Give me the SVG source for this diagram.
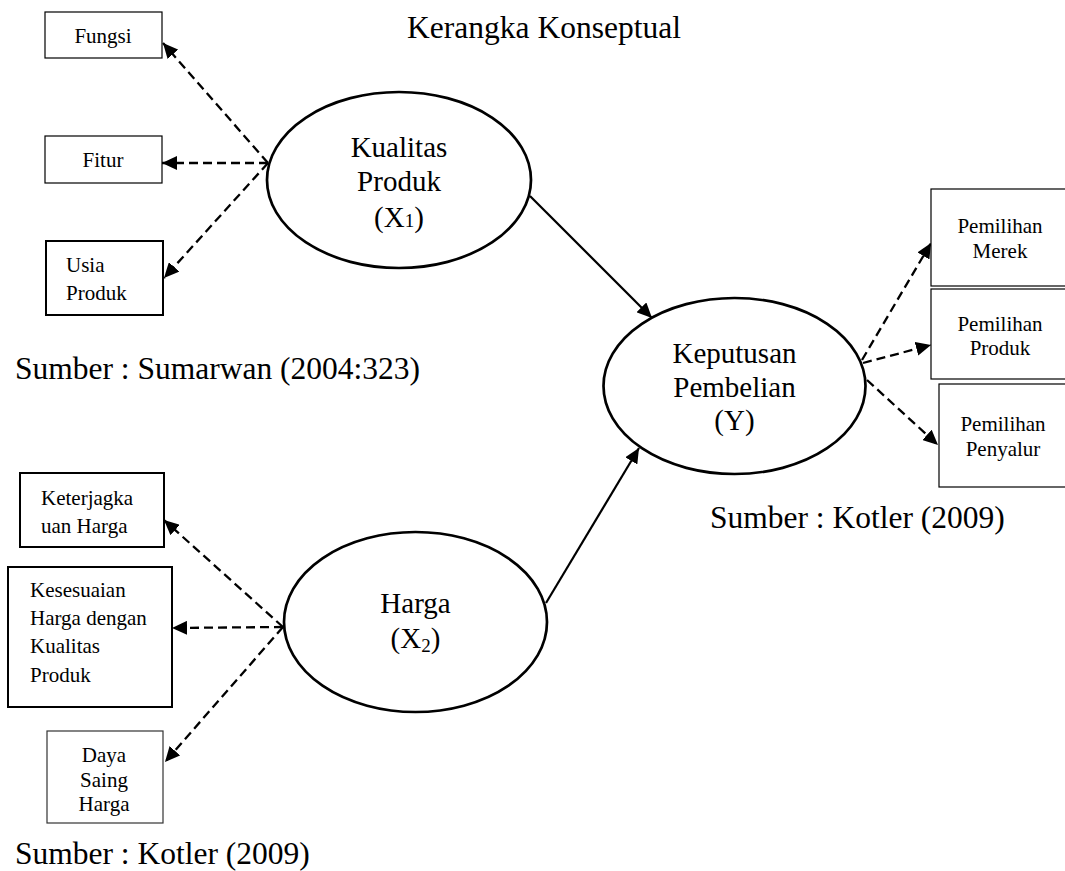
<svg xmlns="http://www.w3.org/2000/svg" width="1065" height="871" viewBox="0 0 1065 871">
<style>
text{font-family:"Liberation Serif","Times New Roman",serif;fill:#000}
.big{font-size:29px;text-anchor:middle}
.lbl{font-size:31.5px}
.sm{font-size:21px}
.mid{text-anchor:middle}
.ell{fill:#fff;stroke:#000;stroke-width:2.7}
.box{fill:#fff;stroke:#000;stroke-width:1.2}
.boxb{fill:#fff;stroke:#000;stroke-width:2}
.dash{fill:none;stroke:#000;stroke-width:2.3;stroke-dasharray:9 5}
.solid{fill:none;stroke:#000;stroke-width:2.2}
</style>
<defs>
<marker id="ah" markerUnits="userSpaceOnUse" markerWidth="16" markerHeight="14" refX="15" refY="7" orient="auto">
<path d="M0,0 L15,7 L0,14 Z" fill="#000"/>
</marker>
</defs>
<text class="lbl mid" x="544" y="38">Kerangka Konseptual</text>
<g id="connectors">
<line class="dash" x1="268" y1="163" x2="163" y2="43" marker-end="url(#ah)"/>
<line class="dash" x1="268" y1="163" x2="162" y2="163" marker-end="url(#ah)"/>
<line class="dash" x1="268" y1="163" x2="164" y2="278" marker-end="url(#ah)"/>
<line class="dash" x1="283" y1="627" x2="164" y2="520" marker-end="url(#ah)"/>
<line class="dash" x1="283" y1="627" x2="172" y2="628" marker-end="url(#ah)"/>
<line class="dash" x1="283" y1="627" x2="165" y2="762" marker-end="url(#ah)"/>
<line class="dash" x1="862" y1="360" x2="931" y2="243" marker-end="url(#ah)"/>
<line class="dash" x1="863" y1="363" x2="931" y2="345" marker-end="url(#ah)"/>
<line class="dash" x1="867" y1="380" x2="938" y2="445" marker-end="url(#ah)"/>
<line class="solid" x1="530" y1="196" x2="652" y2="318" marker-end="url(#ah)"/>
<line class="solid" x1="546" y1="603" x2="639" y2="448" marker-end="url(#ah)"/>
</g>
<g id="kualitas">
<ellipse class="ell" cx="399" cy="180" rx="132" ry="88"/>
<text class="big" x="399" y="157">Kualitas</text>
<text class="big" x="399" y="191">Produk</text>
<text class="big" x="399" y="227">(X<tspan font-size="19">1</tspan>)</text>
</g>
<g id="keputusan">
<ellipse class="ell" cx="734.5" cy="386" rx="131" ry="88"/>
<text class="big" x="734.5" y="363">Keputusan</text>
<text class="big" x="734.5" y="397">Pembelian</text>
<text class="big" x="734.5" y="430">(Y)</text>
</g>
<g id="harga">
<ellipse class="ell" cx="415.5" cy="622" rx="131.5" ry="90"/>
<text class="big" x="415.5" y="613">Harga</text>
<text class="big" x="415.5" y="648">(X<tspan font-size="19" dy="4">2</tspan><tspan dy="-4">)</tspan></text>
</g>
<g id="fungsi">
<rect class="box" x="45" y="12" width="117" height="46"/>
<text class="sm mid" x="103" y="43">Fungsi</text>
</g>
<g id="fitur">
<rect class="box" x="45" y="136" width="117" height="47"/>
<text class="sm mid" x="103" y="167">Fitur</text>
</g>
<g id="usia">
<rect class="boxb" x="46" y="241" width="117" height="74"/>
<text class="sm" x="66" y="272">Usia</text>
<text class="sm" x="66" y="300">Produk</text>
</g>
<g id="keterjangkauan">
<rect class="boxb" x="20" y="473" width="144" height="74"/>
<text class="sm" x="41" y="505">Keterjagka</text>
<text class="sm" x="41" y="533">uan Harga</text>
</g>
<g id="kesesuaian">
<rect class="boxb" x="8" y="567" width="164" height="140"/>
<text class="sm" x="30" y="597">Kesesuaian</text>
<text class="sm" x="30" y="625">Harga dengan</text>
<text class="sm" x="30" y="653">Kualitas</text>
<text class="sm" x="30" y="682">Produk</text>
</g>
<g id="daya">
<rect class="box" x="47" y="731" width="116" height="92" style="stroke:#333"/>
<text class="sm mid" x="104" y="762">Daya</text>
<text class="sm mid" x="104" y="787">Saing</text>
<text class="sm mid" x="104" y="811">Harga</text>
</g>
<g id="merek">
<rect class="box" x="931" y="189" width="136" height="97"/>
<text class="sm mid" x="1000" y="233">Pemilihan</text>
<text class="sm mid" x="1000" y="258">Merek</text>
</g>
<g id="produk">
<rect class="box" x="931" y="289" width="136" height="90"/>
<text class="sm mid" x="1000" y="331">Pemilihan</text>
<text class="sm mid" x="1000" y="355">Produk</text>
</g>
<g id="penyalur">
<rect class="box" x="939" y="384" width="128" height="103"/>
<text class="sm mid" x="1003" y="431">Pemilihan</text>
<text class="sm mid" x="1003" y="456">Penyalur</text>
</g>
<text class="lbl" x="15" y="379">Sumber : Sumarwan (2004:323)</text>
<text class="lbl" x="710" y="528">Sumber : Kotler (2009)</text>
<text class="lbl" x="15" y="864">Sumber : Kotler (2009)</text>
</svg>
